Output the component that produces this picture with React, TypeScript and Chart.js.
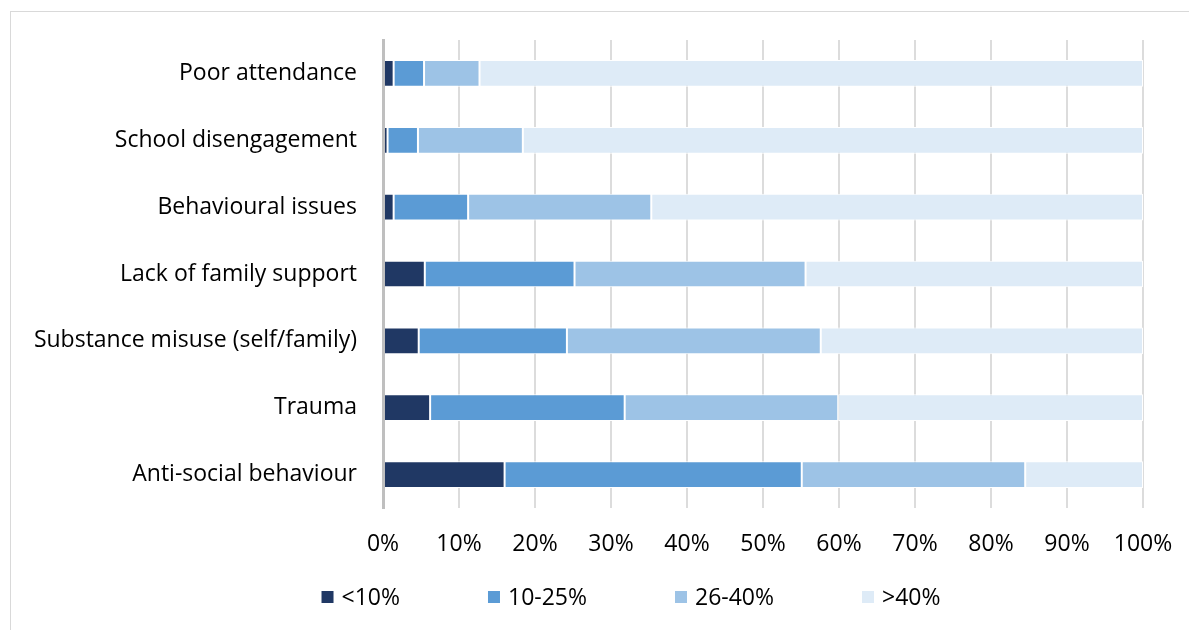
import React, { useEffect, useRef } from "react";
import { Chart, registerables } from "chart.js";

Chart.register(...registerables);

const FONT = "'Open Sans', 'Noto Sans', sans-serif";
const FONT_SIZE = 23;

const categories = [
  "Poor attendance",
  "School disengagement",
  "Behavioural issues",
  "Lack of family support",
  "Substance misuse (self/family)",
  "Trauma",
  "Anti-social behaviour",
];
const seriesNames = ["<10%", "10-25%", "26-40%", ">40%"];
const below10 = [1.4, 0.6, 1.4, 5.5, 4.7, 6.2, 16.0];
const from10to25 = [4.0, 4.0, 9.8, 19.7, 19.5, 25.6, 39.1];
const from26to40 = [7.3, 13.8, 24.1, 30.4, 33.4, 28.1, 29.4];
const above40 = [87.3, 81.6, 64.7, 44.4, 42.4, 40.1, 15.5];
const seriesColors = ["#203864", "#5b9bd5", "#9dc3e6", "#deebf7"];
const xTickLabels = ["0%", "10%", "20%", "30%", "40%", "50%", "60%", "70%", "80%", "90%", "100%"];

const legendPlugin = {
  id: "bottomLegend",
  afterDraw(chart: any) {
    const ctx = chart.ctx;
    const ds = chart.data.datasets;
    const box = 12;
    const gapText = 8;
    const gapItem = 88;
    ctx.save();
    ctx.font = `${FONT_SIZE}px ${FONT}`;
    ctx.textBaseline = "middle";
    ctx.textAlign = "left";
    const widths = ds.map((d: any) => box + gapText + ctx.measureText(d.label).width);
    const total = widths.reduce((a: number, b: number) => a + b, 0) + gapItem * (ds.length - 1);
    let x = 631 - total / 2;
    const cy = 597;
    ds.forEach((d: any, i: number) => {
      ctx.fillStyle = d.backgroundColor;
      ctx.fillRect(x, cy - box / 2, box, box);
      ctx.fillStyle = "#000";
      ctx.fillText(d.label, x + box + gapText, cy + 1);
      x += widths[i] + gapItem;
    });
    ctx.restore();
  },
};

export default function App() {
  const ref = useRef<HTMLCanvasElement | null>(null);

  useEffect(() => {
    if (!ref.current) return;
    const values = [below10, from10to25, from26to40, above40];
    const chart = new Chart(ref.current, {
      type: "bar",
      data: {
        labels: categories,
        datasets: seriesNames.map((name, i) => ({
          label: name,
          data: values[i],
          backgroundColor: seriesColors[i],
          borderColor: "#ffffff",
          borderWidth: 1,
          borderSkipped: false,
          barPercentage: 1,
          categoryPercentage: 0.4,
        })),
      },
      options: {
        indexAxis: "y",
        animation: false,
        responsive: false,
        maintainAspectRatio: false,
        layout: { padding: { left: 0, right: 46, top: 40, bottom: 62 } },
        plugins: {
          legend: { display: false },
          tooltip: { enabled: false },
        },
        scales: {
          x: {
            stacked: true,
            min: 0,
            max: 100,
            ticks: {
              stepSize: 10,
              callback: (_v: any, i: number) => xTickLabels[i],
              color: "#000",
              font: { size: FONT_SIZE, family: FONT },
              padding: 23,
              maxRotation: 0,
            },
            grid: { color: "#dcdcdc", lineWidth: 2, drawTicks: false },
            border: { display: false },
            afterFit: (s: any) => {
              s.height = 60;
              s.paddingLeft = 0;
              s.paddingRight = 0;
            },
          },
          y: {
            stacked: true,
            ticks: {
              color: "#000",
              font: { size: FONT_SIZE, family: FONT },
              padding: 26,
            },
            grid: { display: false, drawTicks: false },
            border: { color: "#bfbfbf", width: 3, z: 1 },
            afterFit: (s: any) => {
              s.width = 383;
            },
          },
        },
      } as any,
      plugins: [legendPlugin],
    });
    return () => chart.destroy();
  }, []);

  return (
    <div style={{ position: "fixed", left: 0, top: 0, width: 1189, height: 630, background: "#fff" }}>
      <div
        style={{
          position: "absolute",
          left: 10,
          top: 11,
          width: 1300,
          height: 700,
          borderLeft: "1px solid #d9d9d9",
          borderTop: "1px solid #d9d9d9",
        }}
      />
      <canvas ref={ref} width={1189} height={630} style={{ position: "absolute", left: 0, top: 0 }} />
    </div>
  );
}
